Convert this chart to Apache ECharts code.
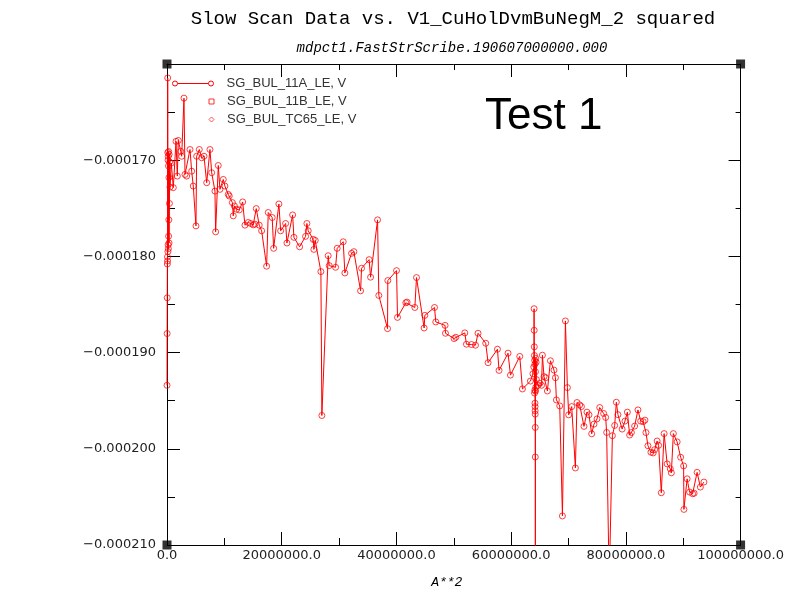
<!DOCTYPE html>
<html>
<head>
<meta charset="utf-8">
<script src="https://cdn.jsdelivr.net/npm/echarts@6/dist/echarts.min.js"></script>
<style>
html, body { margin: 0; padding: 0; background: #fff; }
#chart { width: 787px; height: 594px; }
</style>
</head>
<body>
<div id="chart"></div>
<script>
// A**2 sweep positions (A^2)
const aSquared = [
  0.00e6, 0.02e6, 0.04e6, 0.06e6, 0.08e6, 0.10e6, 0.12e6, 0.14e6, 0.16e6, 0.18e6,
  0.20e6, 0.22e6, 0.24e6, 0.26e6, 0.28e6, 0.30e6, 0.32e6, 0.34e6, 0.36e6, 0.38e6,
  0.42e6, 0.46e6, 0.52e6, 0.75e6, 1.10e6, 1.57e6, 1.80e6, 1.97e6, 2.39e6, 2.56e6,
  2.96e6, 3.14e6, 3.43e6, 4.01e6, 4.30e6, 4.58e6, 5.05e6, 5.17e6, 5.63e6, 6.05e6,
  6.45e6, 6.92e6, 7.49e6, 7.79e6, 8.36e6, 8.48e6, 8.94e6, 9.23e6, 9.81e6, 10.10e6,
  10.68e6, 10.85e6, 11.40e6, 11.55e6, 11.75e6, 12.14e6, 12.60e6, 13.19e6, 13.59e6, 14.16e6,
  14.58e6, 15.03e6, 15.33e6, 15.56e6, 16.08e6, 16.50e6, 17.37e6, 17.65e6, 18.34e6, 18.59e6,
  19.51e6, 19.81e6, 20.68e6, 20.91e6, 21.90e6, 22.13e6, 23.12e6, 24.16e6, 24.39e6, 24.62e6,
  25.49e6, 25.61e6, 25.84e6, 26.83e6, 27.00e6, 28.10e6, 28.28e6, 29.39e6, 29.67e6, 30.72e6,
  31.01e6, 32.18e6, 32.58e6, 33.75e6, 33.92e6, 35.24e6, 35.49e6, 36.71e6, 36.93e6, 38.45e6,
  38.50e6, 40.02e6, 40.19e6, 41.64e6, 41.86e6, 43.21e6, 43.50e6, 44.83e6, 44.95e6, 46.64e6,
  46.86e6, 48.48e6, 48.55e6, 50.05e6, 50.35e6, 51.92e6, 52.21e6, 53.08e6, 53.78e6, 54.23e6,
  55.57e6, 55.98e6, 57.61e6, 57.89e6, 59.46e6, 59.88e6, 61.50e6, 61.97e6, 63.36e6, 63.80e6,
  63.95e6, 64.00e6, 64.02e6, 64.04e6, 64.06e6, 64.08e6, 64.10e6, 64.12e6, 64.14e6, 64.16e6,
  64.17e6, 64.18e6, 64.19e6, 64.20e6, 64.21e6, 64.22e6, 64.24e6, 64.26e6, 64.28e6, 64.30e6,
  64.35e6, 64.40e6, 64.70e6, 65.00e6, 65.30e6, 65.45e6, 65.73e6, 66.03e6, 66.32e6, 66.85e6,
  67.47e6, 67.72e6, 67.89e6, 68.47e6, 68.94e6, 69.46e6, 69.81e6, 70.03e6, 70.56e6, 71.20e6,
  71.48e6, 71.95e6, 72.25e6, 72.70e6, 73.22e6, 73.57e6, 74.04e6, 74.44e6, 74.97e6, 75.44e6,
  76.13e6, 76.48e6, 76.65e6, 77.10e6, 77.65e6, 78.05e6, 78.34e6, 78.62e6, 79.35e6, 79.84e6,
  80.26e6, 80.66e6, 80.96e6, 81.53e6, 82.11e6, 82.58e6, 83.01e6, 83.33e6, 83.50e6, 83.85e6,
  84.37e6, 84.76e6, 85.02e6, 85.45e6, 85.71e6, 86.18e6, 86.67e6, 87.20e6, 87.75e6, 87.93e6,
  88.28e6, 88.94e6, 89.55e6, 90.07e6, 90.12e6, 90.68e6, 91.11e6, 91.64e6, 91.90e6, 92.42e6,
  92.99e6, 93.61e6
];

// SG_BUL_11A_LE readings (V) at each A**2 position
const sgBul11A = [
  -193.40e-6, -188.02e-6, -184.30e-6, -180.79e-6, -180.06e-6, -180.48e-6, -161.45e-6, -169.20e-6, -179.50e-6, -170.00e-6,
  -178.80e-6, -169.60e-6, -179.20e-6, -170.60e-6, -177.90e-6, -169.10e-6, -176.20e-6, -171.80e-6, -178.60e-6, -169.40e-6,
  -174.50e-6, -170.20e-6, -172.80e-6, -170.30e-6, -172.85e-6, -168.04e-6, -171.65e-6, -167.95e-6, -169.07e-6, -169.59e-6,
  -163.55e-6, -171.48e-6, -171.65e-6, -168.89e-6, -171.14e-6, -172.69e-6, -176.83e-6, -169.59e-6, -168.89e-6, -169.75e-6,
  -169.59e-6, -172.34e-6, -168.89e-6, -171.30e-6, -173.21e-6, -177.45e-6, -170.55e-6, -173.03e-6, -172.00e-6, -172.69e-6,
  -173.55e-6, -173.72e-6, -174.41e-6, -175.79e-6, -174.76e-6, -175.10e-6, -175.17e-6, -174.34e-6, -176.75e-6, -176.47e-6,
  -176.58e-6, -176.72e-6, -176.65e-6, -175.03e-6, -176.75e-6, -177.34e-6, -181.02e-6, -175.44e-6, -175.96e-6, -179.16e-6,
  -174.55e-6, -177.34e-6, -176.58e-6, -178.61e-6, -175.69e-6, -178.02e-6, -179.00e-6, -177.92e-6, -176.58e-6, -177.34e-6,
  -178.23e-6, -179.27e-6, -178.34e-6, -181.58e-6, -196.54e-6, -179.93e-6, -180.96e-6, -181.13e-6, -179.16e-6, -178.48e-6,
  -181.72e-6, -179.68e-6, -179.51e-6, -183.58e-6, -181.23e-6, -180.34e-6, -182.16e-6, -176.20e-6, -184.06e-6, -187.51e-6,
  -182.51e-6, -181.48e-6, -186.34e-6, -184.82e-6, -184.75e-6, -185.31e-6, -182.20e-6, -187.44e-6, -186.13e-6, -185.31e-6,
  -186.81e-6, -187.17e-6, -187.99e-6, -188.54e-6, -188.41e-6, -187.95e-6, -189.13e-6, -189.16e-6, -189.23e-6, -187.99e-6,
  -189.03e-6, -191.05e-6, -189.65e-6, -191.85e-6, -190.06e-6, -192.34e-6, -190.40e-6, -193.78e-6, -192.96e-6, -192.20e-6,
  -191.50e-6, -185.44e-6, -187.68e-6, -189.40e-6, -190.30e-6, -194.20e-6, -190.80e-6, -193.90e-6, -191.20e-6, -195.26e-6,
  -195.61e-6, -196.05e-6, -196.40e-6, -197.78e-6, -200.85e-6, -213.00e-6, -192.00e-6, -194.00e-6, -190.60e-6, -193.60e-6,
  -191.00e-6, -192.80e-6, -193.40e-6, -193.20e-6, -193.40e-6, -190.27e-6, -192.50e-6, -192.61e-6, -193.99e-6, -190.85e-6,
  -191.82e-6, -192.61e-6, -194.92e-6, -195.54e-6, -206.98e-6, -186.71e-6, -193.64e-6, -196.47e-6, -195.61e-6, -201.99e-6,
  -195.19e-6, -195.44e-6, -195.61e-6, -197.67e-6, -196.19e-6, -196.47e-6, -198.44e-6, -197.44e-6, -196.89e-6, -195.71e-6,
  -196.33e-6, -196.74e-6, -198.30e-6, -214.00e-6, -198.64e-6, -197.57e-6, -195.16e-6, -196.45e-6, -197.95e-6, -197.12e-6,
  -196.19e-6, -198.57e-6, -198.31e-6, -197.64e-6, -195.96e-6, -197.12e-6, -197.18e-6, -197.02e-6, -198.31e-6, -199.68e-6,
  -200.36e-6, -200.43e-6, -200.09e-6, -199.19e-6, -199.64e-6, -204.57e-6, -198.42e-6, -201.57e-6, -202.09e-6, -202.50e-6,
  -198.42e-6, -199.28e-6, -200.88e-6, -201.78e-6, -206.30e-6, -203.12e-6, -204.50e-6, -204.67e-6, -204.62e-6, -202.45e-6,
  -203.98e-6, -203.46e-6
];

// Channels listed in the legend that have no samples in this scan
const sgBul11B = [];
const sgBulTC65 = [];

const seriesNames = ['SG_BUL_11A_LE, V', 'SG_BUL_11B_LE, V', 'SG_BUL_TC65_LE, V'];

// Axis extents and tick steps
const xRange = [0, 100000000];
const yRange = [-0.00021, -0.00016];
const xTickStep = 20000000;
const yTickStep = 0.00001;

const chart = echarts.init(document.getElementById('chart'), null, { renderer: 'canvas' });

const frame = { color: '#000', width: 1 };
const labelFont = { fontFamily: 'DejaVu Sans', fontSize: 13, color: '#222' };

function yLabel(v) {
  if (Math.abs(v - yRange[1]) < 1e-12) return '';
  return '\u2212' + Math.abs(v).toFixed(6);
}

// legend icon: a short line with an open circle at each end
const lineIcon = 'path://M0,2.5A2.5,2.5 0 1,1 5,2.5A2.5,2.5 0 1,1 0,2.5Z' +
  'M5,2.5L36,2.5' +
  'M36,2.5A2.5,2.5 0 1,1 41,2.5A2.5,2.5 0 1,1 36,2.5Z';

const legendText = { fontFamily: 'Liberation Sans', fontSize: 13, color: '#333', padding: [0, 0, 0, 8] };

const corners = [
  [xRange[0], yRange[1]], [xRange[1], yRange[1]],
  [xRange[0], yRange[0]], [xRange[1], yRange[0]]
];

chart.setOption({
  animation: false,
  backgroundColor: '#fff',
  title: [
    {
      text: 'Slow Scan Data vs. V1_CuHolDvmBuNegM_2 squared',
      left: 453, top: 9, padding: 0, textAlign: 'center',
      textStyle: { fontFamily: 'Liberation Mono', fontSize: 19, fontWeight: 'normal', color: '#000' }
    },
    {
      text: 'mdpct1.FastStrScribe.190607000000.000',
      left: 452, top: 41, padding: 0, textAlign: 'center',
      textStyle: { fontFamily: 'Liberation Mono', fontStyle: 'italic', fontSize: 14, fontWeight: 'normal', color: '#000' }
    },
    {
      text: 'Test 1',
      left: 485, top: 95, padding: 0,
      textStyle: { fontFamily: 'Liberation Sans', fontSize: 44, fontWeight: 'normal', color: '#000' }
    }
  ],
  legend: [
    {
      data: [seriesNames[0]], left: 172, top: 77, padding: 0, selectedMode: false,
      icon: lineIcon, itemWidth: 41, itemHeight: 5,
      itemStyle: { color: 'rgba(0,0,0,0)', borderColor: '#ff0000', borderWidth: 1 },
      textStyle: legendText
    },
    {
      data: [seriesNames[1]], left: 208.5, top: 95, padding: 0, selectedMode: false,
      icon: 'rect', itemWidth: 5, itemHeight: 5,
      itemStyle: { color: '#fff', borderColor: '#ff3030', borderWidth: 1 },
      textStyle: legendText
    },
    {
      data: [seriesNames[2]], left: 208.5, top: 113, padding: 0, selectedMode: false,
      icon: 'diamond', itemWidth: 5, itemHeight: 5,
      itemStyle: { color: '#fff', borderColor: '#ff5050', borderWidth: 1 },
      textStyle: legendText
    }
  ],
  grid: { left: 167, top: 64, width: 574, height: 483, containLabel: false },
  xAxis: [
    {
      type: 'value', position: 'bottom', min: xRange[0], max: xRange[1], interval: xTickStep,
      axisLine: { show: true, onZero: false, lineStyle: frame },
      axisTick: { show: true, inside: true, length: 13, lineStyle: frame },
      minorTick: { show: true, splitNumber: 2, length: 7, lineStyle: frame },
      splitLine: { show: false }, minorSplitLine: { show: false },
      axisLabel: Object.assign({ margin: 4, formatter: v => v.toFixed(1) }, labelFont),
      name: 'A**2', nameLocation: 'middle', nameGap: 31,
      nameTextStyle: { fontFamily: 'Liberation Mono', fontStyle: 'italic', fontSize: 13, color: '#000', padding: [0, 14, 0, 0] }
    },
    {
      type: 'value', position: 'top', min: xRange[0], max: xRange[1], interval: xTickStep,
      axisLine: { show: true, onZero: false, lineStyle: frame },
      axisTick: { show: true, inside: true, length: 13, lineStyle: frame },
      minorTick: { show: true, splitNumber: 2, length: 6, lineStyle: frame },
      splitLine: { show: false }, minorSplitLine: { show: false },
      axisLabel: { show: false }
    }
  ],
  yAxis: [
    {
      type: 'value', position: 'left', min: yRange[0], max: yRange[1], interval: yTickStep,
      axisLine: { show: true, onZero: false, lineStyle: frame },
      axisTick: { show: true, inside: true, length: 13, lineStyle: frame },
      minorTick: { show: true, splitNumber: 2, length: 8, lineStyle: frame },
      splitLine: { show: false }, minorSplitLine: { show: false },
      axisLabel: Object.assign({ margin: 11, formatter: yLabel }, labelFont)
    },
    {
      type: 'value', position: 'right', min: yRange[0], max: yRange[1], interval: yTickStep,
      axisLine: { show: true, onZero: false, lineStyle: frame },
      axisTick: { show: true, inside: true, length: 12, lineStyle: frame },
      minorTick: { show: true, splitNumber: 2, length: 5, lineStyle: frame },
      splitLine: { show: false }, minorSplitLine: { show: false },
      axisLabel: { show: false }
    }
  ],
  series: [
    {
      name: seriesNames[0], type: 'line', xAxisIndex: 0, yAxisIndex: 0,
      data: aSquared.map((x, i) => [x, sgBul11A[i]]),
      symbol: 'circle', symbolSize: 6, showAllSymbol: true, clip: true,
      lineStyle: { color: '#ff0000', width: 1 },
      itemStyle: { color: 'rgba(255,255,255,0)', borderColor: 'rgba(255,0,0,0.75)', borderWidth: 1 },
      z: 3
    },
    {
      name: seriesNames[1], type: 'line', data: sgBul11B,
      symbol: 'rect', symbolSize: 5, lineStyle: { color: '#ff3030', width: 1 },
      itemStyle: { color: '#ff3030' }
    },
    {
      name: seriesNames[2], type: 'line', data: sgBulTC65,
      symbol: 'diamond', symbolSize: 5, lineStyle: { color: '#ff5050', width: 1 },
      itemStyle: { color: '#ff5050' }
    },
    {
      // black markers at the corners of the plot frame
      type: 'scatter', data: corners, symbol: 'rect', symbolSize: 9,
      itemStyle: { color: '#000' }, clip: false, silent: true, z: 5
    }
  ]
});
</script>
</body>
</html>
